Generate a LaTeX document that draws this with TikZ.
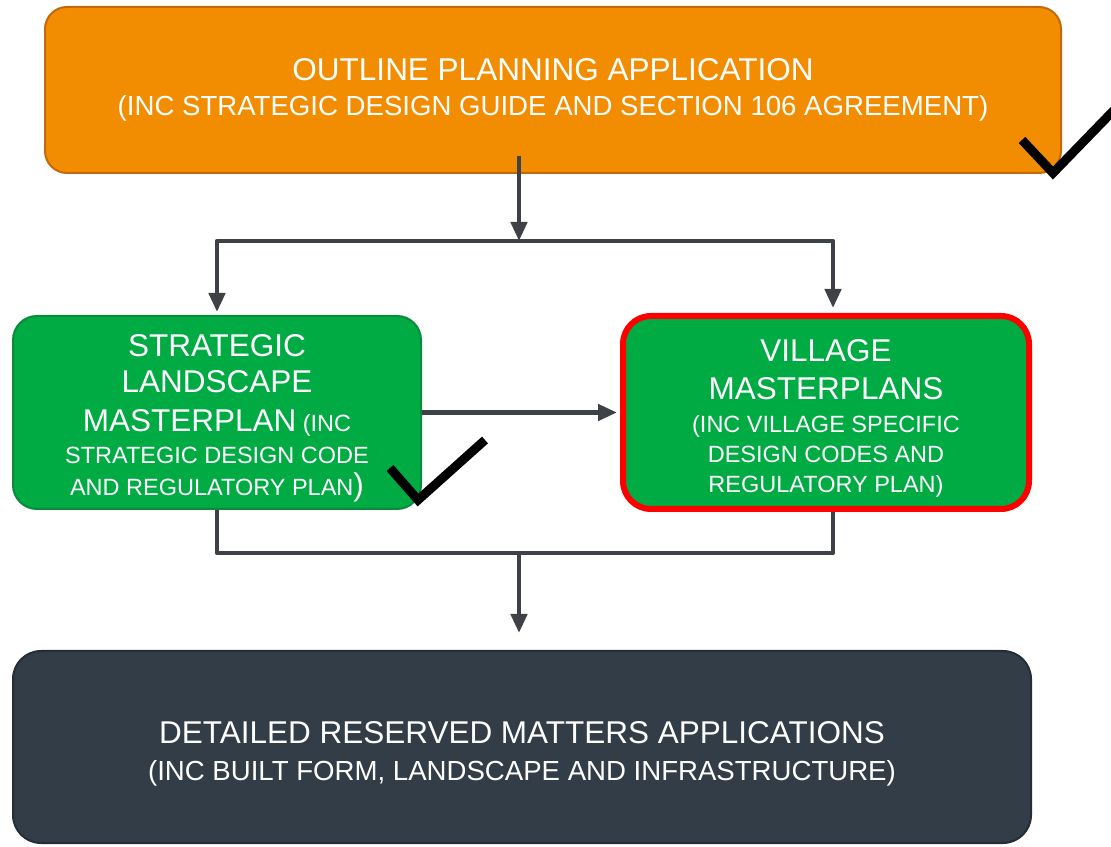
\documentclass[tikz,border=0pt]{standalone}
\usepackage{fontspec}
\setmainfont{Liberation Sans}
\usetikzlibrary{arrows.meta,calc}

\definecolor{planorange}{HTML}{F28C00}
\definecolor{planorangedark}{HTML}{C4680C}
\definecolor{plangreen}{HTML}{00AB44}
\definecolor{plangreendark}{HTML}{0B8A3B}
\definecolor{planslate}{HTML}{333D47}
\definecolor{planslatedark}{HTML}{252D35}
\definecolor{linkgray}{HTML}{3E4146}

\tikzset{
	stage/.style={draw, rounded corners=24pt, inner sep=0pt, align=center, text=white},
	link/.style={draw=linkgray, line width=4.5pt, line join=round, -{Triangle[width=16pt,length=19pt]}},
	bar/.style={draw=linkgray, line width=4.5pt, line join=round},
	tick/.style={draw=black, line width=9pt}
}

\begin{document}
\begin{tikzpicture}[x=1pt,y=1pt]
		\newcommand{\hdsize}{\fontsize{31.5}{38}\selectfont}
		\newcommand{\subsize}{\fontsize{27.6}{35}\selectfont}
		\newcommand{\notesize}{\fontsize{23.5}{30}\selectfont}
		\useasboundingbox (0,0) rectangle (1111,846);

		% boxes
		\node[stage, fill=planorange, draw=planorangedark, line width=2pt, rounded corners=22pt,
			minimum width=1016, minimum height=166, font=\subsize] (outline) at (553,756)
			{{\hdsize OUTLINE PLANNING APPLICATION}\\
			(INC STRATEGIC DESIGN GUIDE AND SECTION 106 AGREEMENT)};

		\node[stage, fill=plangreen, draw=plangreendark, line width=2pt,
			minimum width=408, minimum height=193, font=\notesize] (landscape) at (217,433.5)
			{\rule{0pt}{33pt}{\hdsize STRATEGIC}\\[6pt]
			{\hdsize LANDSCAPE}\\[9pt]
			{\hdsize MASTERPLAN} (INC\\[2pt]
			STRATEGIC DESIGN CODE\\[2pt]
			AND REGULATORY PLAN{\hdsize )}};

		\node[stage, fill=plangreen, draw=red, line width=6pt, rounded corners=28pt,
			minimum width=406, minimum height=193, font=\notesize] (village) at (826,433.5)
			{\rule{0pt}{34pt}{\hdsize VILLAGE}\\[8pt]
			{\hdsize MASTERPLANS}\\[3pt]
			(INC VILLAGE SPECIFIC\\
			DESIGN CODES AND\\
			REGULATORY PLAN)};

		\node[stage, fill=planslate, draw=planslatedark, line width=2pt, rounded corners=28pt,
			minimum width=1018, minimum height=192, font=\subsize] (reserved) at (522,99)
			{\rule{0pt}{35pt}{\hdsize DETAILED RESERVED MATTERS APPLICATIONS}\\[2pt]
			(INC BUILT FORM, LANDSCAPE AND INFRASTRUCTURE)};

		% connectors
		\coordinate (split) at (519,605);
		\coordinate (merge) at (519,293);

		\draw[link] ($(split |- outline.south)+(0,18)$) -- (split);
		\draw[bar] (landscape.north |- split) -- (split) -- ([xshift=7pt]village.north |- split);
		\draw[link, shorten >=3pt] (split) -| (landscape.north);
		\draw[link, shorten >=5pt] (split) -| ([xshift=7pt]village.north);

		\draw[link, shorten >=3pt] (landscape.east) -- (village.west);

		\draw[bar] (landscape.south) |- (merge) -| ([xshift=7pt]village.south);
		\draw[link, shorten >=17pt] (merge) -- (reserved.north -| merge);

		% ticks
		\draw[tick] (1022,706) -- (1053,673) -- (1118,740);
		\draw[tick] (390,378) -- (418,346) -- (485,406);
\end{tikzpicture}
\end{document}
